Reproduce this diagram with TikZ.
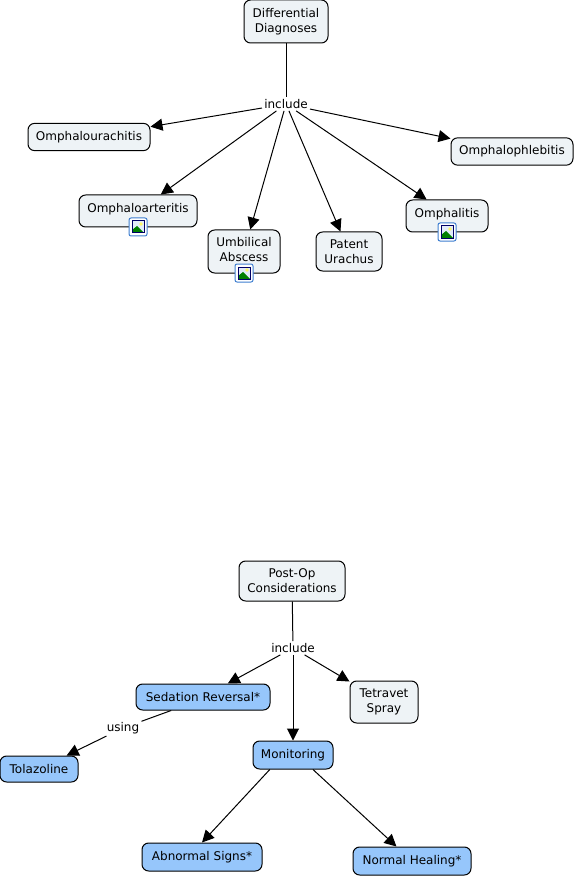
\documentclass[tikz,border=0pt]{standalone}
\usepackage{fontspec}
\setmainfont{DejaVu Sans}
\usetikzlibrary{arrows.meta,calc}

\definecolor{conceptfill}{HTML}{EEF3F6}
\definecolor{bluefill}{HTML}{96C6FB}
\definecolor{iconblue}{HTML}{3F7FD0}

\tikzset{
  concept/.style={draw=black, line width=0.75pt, rounded corners=5pt, fill=conceptfill,
    align=center, inner sep=0pt, font=\fontsize{9}{11.25}\selectfont},
  bluebox/.style={concept, fill=bluefill},
  linking/.style={fill=white, inner sep=1.5pt, font=\fontsize{9}{11}\selectfont},
  link/.style={line width=0.75pt},
  linkarrow/.style={link, -{Triangle[length=9pt, width=9pt]}},
  imgicon/.pic={
    \draw[iconblue, line width=0.75pt, fill=white, rounded corners=1.5pt] (-9,-9) rectangle (9,9);
    \fill[white!85!iconblue] (-6,-6) rectangle (6,6);
    \fill[green!50!black] (-6,6) -- (-6,3) -- (-1,-1) -- (6,6) -- cycle;
    \fill[yellow!60!white] (3,-3) circle (1.8);
    \draw[blue!40!black, line width=0.75pt] (-6,-6) rectangle (6,6);
  }
}

\begin{document}
\begin{tikzpicture}[x=0.75pt, y=-0.75pt]
\useasboundingbox (0,0) rectangle (574,877);

% Differential diagnoses
\node[concept, minimum width=63pt, minimum height=32.25pt] (diagnoses) at (286,21.5) {Differential\\Diagnoses};
\node[linking] (include1) at (286,104) {include};
\node[concept, minimum width=91.5pt, minimum height=20.5pt] (urachitis) at (89,137) {Omphalourachitis};
\node[concept, minimum width=91.5pt, minimum height=20.5pt] (phlebitis) at (512,151.5) {Omphalophlebitis};
\node[concept, minimum width=88.5pt, minimum height=24pt, text depth=5pt] (arteritis) at (138,211) {Omphaloarteritis};
\node[concept, minimum width=54pt, minimum height=32.25pt] (abscess) at (244,251.5) {Umbilical\\Abscess\\[-8pt]\mbox{}};
\node[concept, minimum width=49.5pt, minimum height=29.25pt] (urachus) at (349,251.5) {Patent\\Urachus};
\node[concept, minimum width=61.5pt, minimum height=24pt, text depth=5pt] (omphalitis) at (447,216) {Omphalitis};

\draw[link] (diagnoses) -- (include1);
\foreach \target in {urachitis,phlebitis,arteritis,abscess,urachus}
  \draw[linkarrow] (include1) -- (\target);
\draw[linkarrow] (include1) -- (omphalitis.141);

% Image icons
\pic at (138,227) {imgicon};
\pic at (244,273) {imgicon};
\pic at (447,232) {imgicon};

% Post-op considerations
\node[concept, minimum width=79.5pt, minimum height=30pt] (postop) at (292,581) {Post-Op\\Considerations};
\node[linking] (include2) at (293,648) {include};
\node[bluebox, minimum width=100.5pt, minimum height=19.5pt] (sedation) at (203,697) {Sedation Reversal*};
\node[concept, minimum width=51pt, minimum height=31.5pt] (tetravet) at (384,702) {Tetravet\\Spray};
\node[linking] (using) at (123,728) {using};
\node[bluebox, minimum width=58.5pt, minimum height=19.5pt] (tolazoline) at (39,769) {Tolazoline};
\node[bluebox, minimum width=60pt, minimum height=21pt] (monitoring) at (293,755) {Monitoring};
\node[bluebox, minimum width=90pt, minimum height=21pt] (abnormal) at (202,857) {Abnormal Signs*};
\node[bluebox, minimum width=88.5pt, minimum height=21pt] (healing) at (412,861) {Normal Healing*};

\draw[link] (postop) -- (include2);
\foreach \target in {sedation,tetravet,monitoring}
  \draw[linkarrow] (include2) -- (\target);
\draw[link] (sedation.203) -- (using);
\draw[linkarrow] (using) -- (tolazoline);
\draw[linkarrow] (monitoring.212) -- (abnormal.north);
\draw[linkarrow] (monitoring.-36) -- (healing.137);
\end{tikzpicture}
\end{document}
